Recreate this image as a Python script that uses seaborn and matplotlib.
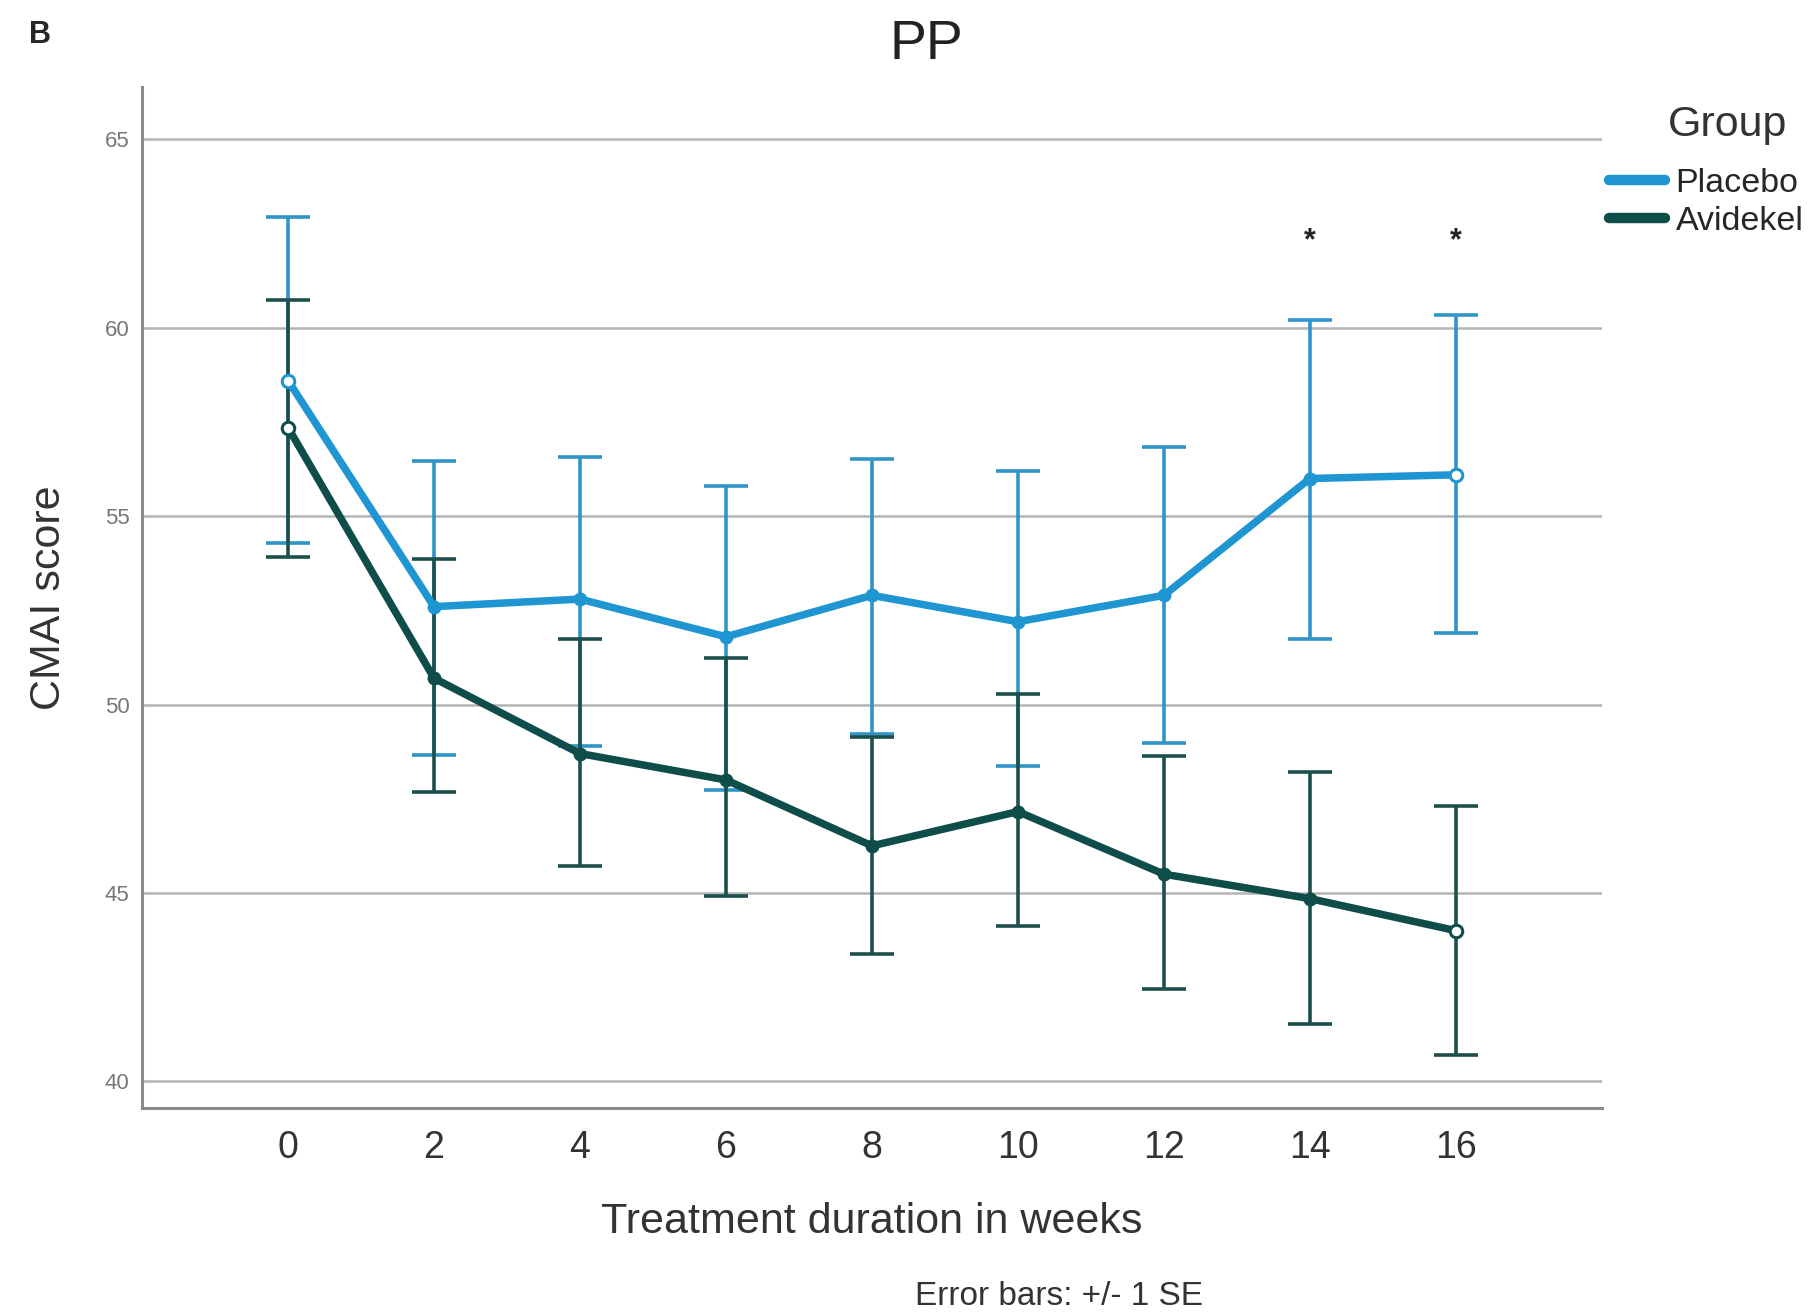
import numpy as np
import pandas as pd
import matplotlib
matplotlib.use("Agg")
import matplotlib.pyplot as plt
import seaborn as sns

weeks = [0, 2, 4, 6, 8, 10, 12, 14, 16]
placebo_mean = [58.6, 52.6, 52.8, 51.8, 52.9, 52.2, 52.9, 56.0, 56.1]
placebo_upper = [62.95, 56.46, 56.58, 55.79, 56.52, 56.19, 56.83, 60.20, 60.35]
placebo_lower = [54.29, 48.66, 48.90, 47.74, 49.21, 48.38, 48.99, 51.75, 51.90]
avidekel_mean = [57.35, 50.7, 48.7, 48.0, 46.25, 47.16, 45.5, 44.85, 44.0]
avidekel_upper = [60.75, 53.86, 51.75, 51.23, 49.15, 50.28, 48.63, 48.20, 47.31]
avidekel_lower = [53.92, 47.68, 45.72, 44.93, 43.37, 44.13, 42.45, 41.53, 40.70]
groups = ["Placebo", "Avidekel"]
open_marker_weeks = [0, 16]
star_weeks = [14, 16]
star_y = 62.3
yticks = [40, 45, 50, 55, 60, 65]

line_colors = {"Placebo": "#1f95d2", "Avidekel": "#0f4d4b"}
err_colors = {"Placebo": "#2f95c8", "Avidekel": "#1d4f4d"}

df = pd.DataFrame({
    "week": weeks * 2,
    "score": placebo_mean + avidekel_mean,
    "upper": placebo_upper + avidekel_upper,
    "lower": placebo_lower + avidekel_lower,
    "Group": ["Placebo"] * len(weeks) + ["Avidekel"] * len(weeks),
})

sns.set_style("white")
plt.rcParams["font.family"] = ["Liberation Sans", "DejaVu Sans"]

fig = plt.figure(figsize=(18.10, 13.14), dpi=100)
ax = fig.add_axes([0.0785, 0.157, 0.8065, 0.777])

for g in groups:
    sub = df[df["Group"] == g]
    ax.errorbar(sub["week"], sub["score"],
                yerr=[sub["score"] - sub["lower"], sub["upper"] - sub["score"]],
                fmt="none", ecolor=err_colors[g], elinewidth=2.6,
                capsize=16, capthick=2.6, zorder=2)

sns.lineplot(data=df, x="week", y="score", hue="Group", hue_order=groups,
             palette=line_colors, linewidth=5.4, marker="o", markersize=8,
             ax=ax, zorder=3, errorbar=None)
for ln in ax.lines:
    if ln.get_marker() == "o":
        ln.set_markeredgecolor(ln.get_color())
        ln.set_markeredgewidth(2)

ends = df[df["week"].isin(open_marker_weeks)]
for g in groups:
    sub = ends[ends["Group"] == g]
    ax.plot(sub["week"], sub["score"], linestyle="none", marker="o",
            markersize=9, markerfacecolor="white",
            markeredgecolor=line_colors[g], markeredgewidth=2.2, zorder=4)

for w in star_weeks:
    ax.text(w, star_y, "*", ha="center", va="center", fontsize=22,
            color="#222", fontweight="bold")

ax.set_xlim(-2, 18)
ax.set_ylim(39.3, 66.4)
ax.set_xticks(weeks)
ax.set_xticklabels([str(w) for w in weeks])
ax.set_yticks(yticks)
ax.yaxis.grid(True, color="#b4b4b4", linewidth=1.8)
ax.xaxis.grid(False)
ax.tick_params(axis="x", length=0, labelsize=27, colors="#333333", pad=16)
ax.tick_params(axis="y", length=0, labelsize=16, colors="#777777", pad=9)
for s in ["top", "right"]:
    ax.spines[s].set_visible(False)
for s in ["left", "bottom"]:
    ax.spines[s].set_color("#8a8a8a")
    ax.spines[s].set_linewidth(2.2)

ax.set_xlabel("Treatment duration in weeks", fontsize=31, color="#333333", labelpad=26)
ax.set_ylabel("CMAI score", fontsize=31, color="#333333", labelpad=26)
ax.set_title("PP", fontsize=40, color="#222222", pad=20, x=0.5375)

leg = ax.legend(loc="upper left", bbox_to_anchor=(1.005, 0.92),
                frameon=False, fontsize=24.5,
                handlelength=1.65, handletextpad=0.3, labelspacing=0.2,
                borderaxespad=0.0, borderpad=0.0)
for h in leg.legend_handles:
    h.set_marker("")
    h.set_linewidth(7.5)

fig.text(0.9547, 0.905, "Group", fontsize=31, color="#333333",
         ha="center", va="center")
fig.text(0.022, 0.973, "B", fontsize=22, fontweight="bold", ha="center", va="center")
fig.text(0.585, 0.013, "Error bars: +/- 1 SE", fontsize=24, color="#333333",
         ha="center", va="center")

fig.savefig("out.png", dpi=100, facecolor="white")
